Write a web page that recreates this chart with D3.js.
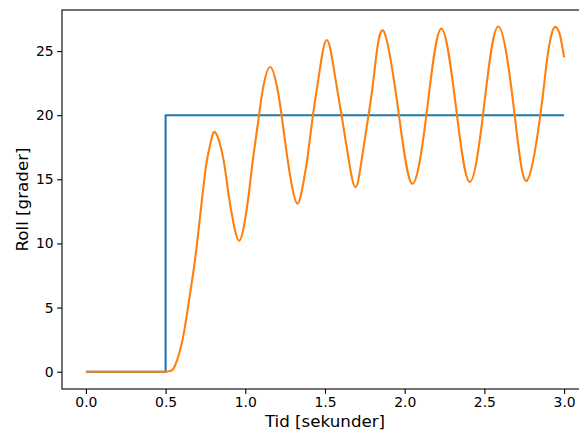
<!DOCTYPE html>
<html>
<head>
<meta charset="utf-8">
<script src="https://cdn.jsdelivr.net/npm/d3@7"></script>
<style>
  html, body { margin: 0; padding: 0; background: #fff; overflow: hidden; }
  svg { display: block; font-family: "DejaVu Sans", sans-serif; }
</style>
</head>
<body>
<svg id="chart" width="579" height="433"></svg>
<script>
// Reference (step) signal
const refTime  = [0, 0.5, 0.5, 3.0];
const refValue = [0, 0, 20, 20];

// Measured roll response
const rollTime = [
  0, 0.25, 0.5, 0.53, 0.56, 0.606, 0.641, 0.673, 0.700, 0.727, 0.757, 0.785, 0.813,
  0.861, 0.892, 0.928, 0.961, 0.993, 1.024, 1.049, 1.087, 1.108, 1.156,
  1.204, 1.227, 1.264, 1.291, 1.327, 1.362, 1.390, 1.425, 1.463, 1.511,
  1.561, 1.603, 1.647, 1.691, 1.732, 1.774, 1.808, 1.868,
  1.964, 2.048, 2.136, 2.230,
  2.328, 2.408, 2.491, 2.587,
  2.690, 2.767, 2.851, 2.888, 2.919, 2.947, 2.975, 3.0];
const rollValue = [
  0, 0, 0, 0.05, 0.5, 2.48, 5.08, 7.69, 10.29, 13.3, 16.3, 18.0, 18.63,
  16.67, 14.06, 11.46, 10.21, 11.46, 14.06, 16.67, 20.05, 21.88, 23.75,
  21.88, 20.05, 16.67, 14.59, 13.10, 14.59, 16.67, 20.05, 23.18, 25.86,
  23.18, 20.05, 16.67, 14.38, 16.67, 20.05, 23.18, 26.56,
  20.0, 14.66, 20.0, 26.75,
  20.0, 14.80, 20.0, 26.91,
  20.0, 14.90, 20.0, 23.83, 26.2, 26.88, 26.2, 24.5];

const xTicks = [0, 0.5, 1.0, 1.5, 2.0, 2.5, 3.0];
const yTicks = [0, 5, 10, 15, 20, 25];

const svg = d3.select("#chart");
const plotLeft = 62, plotRight = 588, plotTop = 10, plotBottom = 389;

const x = d3.scaleLinear().domain([-0.15, 3.15]).range([plotLeft, plotRight]);
const y = d3.scaleLinear().domain([-1.35, 28.2]).range([plotBottom, plotTop]);

const xAxis = d3.axisBottom(x).tickValues(xTicks).tickFormat(d3.format(".1f"))
  .tickSizeInner(4.9).tickSizeOuter(0).tickPadding(3.5);
const yAxis = d3.axisLeft(y).tickValues(yTicks).tickFormat(d3.format("d"))
  .tickSizeInner(4.9).tickSizeOuter(0).tickPadding(3.5);

const gx = svg.append("g").attr("transform", `translate(0,${plotBottom})`).call(xAxis);
const gy = svg.append("g").attr("transform", `translate(${plotLeft},0)`).call(yAxis);
[gx, gy].forEach(g => {
  g.select(".domain").remove();
  g.selectAll(".tick line").attr("stroke", "#000").attr("stroke-width", 1.1);
  g.selectAll(".tick text").attr("fill", "#000").attr("font-size", "13.9px")
    .attr("font-family", "DejaVu Sans, sans-serif");
});

const stepLine = d3.line();
svg.append("path")
  .attr("d", stepLine(refTime.map((t, i) => [x(t), y(refValue[i])])))
  .attr("fill", "none").attr("stroke", "#1f77b4").attr("stroke-width", 2.08)
  .attr("stroke-linejoin", "round");

// Roll response: straight while at rest, smooth spline once it starts moving
const rollPts = rollTime.map((t, i) => [x(t), y(rollValue[i])]);
const restEnd = rollTime.indexOf(0.5);
const restPath = d3.line()(rollPts.slice(0, restEnd + 1));
const movePath = d3.line().curve(d3.curveNatural)(rollPts.slice(restEnd));
svg.append("path")
  .attr("d", restPath + movePath.replace(/^M[^CL]*/, ""))
  .attr("fill", "none").attr("stroke", "#ff7f0e").attr("stroke-width", 2.08)
  .attr("stroke-linejoin", "round");

// Spines
svg.append("rect").attr("x", plotLeft).attr("y", plotTop)
  .attr("width", plotRight - plotLeft).attr("height", plotBottom - plotTop)
  .attr("fill", "none").attr("stroke", "#000").attr("stroke-width", 1.1);

svg.append("text").attr("x", (plotLeft + plotRight) / 2).attr("y", 427)
  .attr("text-anchor", "middle").attr("font-size", "16.7px").attr("fill", "#000")
  .text("Tid [sekunder]");
svg.append("text").attr("transform", `translate(28,${(plotTop + plotBottom) / 2}) rotate(-90)`)
  .attr("text-anchor", "middle").attr("font-size", "16.7px").attr("fill", "#000")
  .text("Roll [grader]");
</script>
</body>
</html>
